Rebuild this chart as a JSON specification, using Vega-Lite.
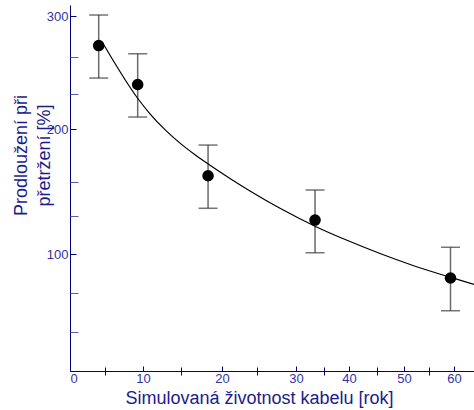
{
  "$schema": "https://vega.github.io/schema/vega-lite/v6.json",
  "autosize": "none",
  "width": 404,
  "height": 366,
  "padding": {"left": 70, "top": 5, "right": 0, "bottom": 39},
  "background": "white",
  "config": {
    "view": {"stroke": null},
    "font": "Liberation Sans",
    "axis": {"grid": false, "labelFont": "Liberation Sans", "titleFont": "Liberation Sans", "titleFontWeight": "normal", "domainColor": "#000080", "tickColor": "#000080", "labelColor": "#33339f", "titleColor": "#1c1c8c", "labelFontSize": 13, "titleFontSize": 18}
  },
  "datasets": {
    "pts": [
      {"t": 4.1, "p": 276.0, "lo": 247.7, "hi": 300.8},
      {"t": 9.3, "p": 241.9, "lo": 211.4, "hi": 269.3},
      {"t": 18.3, "p": 170.6, "lo": 140.9, "hi": 189.9},
      {"t": 33.4, "p": 129.8, "lo": 101.1, "hi": 158.8},
      {"t": 59.3, "p": 79.5, "lo": 51.5, "hi": 105.9}
    ],
    "fit": [
      {"t": 4.86, "p": 276.4},
      {"t": 6.32, "p": 260.8},
      {"t": 8.03, "p": 242.1},
      {"t": 9.34, "p": 228.8},
      {"t": 10.92, "p": 214.5},
      {"t": 12.89, "p": 199.6},
      {"t": 14.87, "p": 191.1},
      {"t": 16.71, "p": 183.8},
      {"t": 18.54, "p": 177.2},
      {"t": 21.14, "p": 168.9},
      {"t": 24.0, "p": 157.9},
      {"t": 27.95, "p": 140.9},
      {"t": 33.39, "p": 124.4},
      {"t": 39.6, "p": 112.0},
      {"t": 45.56, "p": 100.4},
      {"t": 51.8, "p": 90.2},
      {"t": 59.2, "p": 80.2},
      {"t": 64, "p": 74.0}
    ]
  },
  "resolve": {"axis": {"x": "independent", "y": "independent"}},
  "layer": [
    {
      "data": {"name": "pts"},
      "mark": {"type": "rule", "color": "#6a6a6a", "strokeWidth": 1.5},
      "encoding": {
        "x": {"field": "t", "type": "quantitative",
          "scale": {"type": "linear", "domain": [0, 5, 10, 15, 20, 25, 30, 35, 40, 45, 50, 55, 60, 64], "range": [0, 35, 73, 111, 152, 187, 226, 254, 279, 307, 334, 359, 384, 404], "nice": false, "zero": false},
          "axis": {"orient": "bottom", "values": [0, 10, 20, 30, 40, 50, 60], "tickSize": -5, "labelPadding": 16, "labelBaseline": "alphabetic", "labelFontSize": 13, "title": "Simulovaná životnost kabelu [rok]", "titleX": 189, "titleY": 32, "titleAnchor": null, "titleAlign": "center", "titleBaseline": "alphabetic"}},
        "y": {"field": "lo", "type": "quantitative",
          "scale": {"type": "linear", "domain": [0, 33.333, 66.667, 100, 133.333, 166.667, 200, 233.333, 266.667, 300, 309], "range": [366, 327, 288, 249, 211, 177, 124, 89, 52, 11, 0], "nice": false, "zero": false},
          "axis": {"orient": "left", "values": [100, 200, 300], "tickSize": -6, "labelPadding": 8, "labelBaseline": "middle", "labelFontSize": 13, "title": ["Prodloužení při", "přetržení [%]"], "titleAngle": -90, "titleX": -49, "titleY": 150, "titleAlign": "center", "titleBaseline": "middle", "titleLineHeight": 23}},
        "y2": {"field": "hi"}
      }
    },
    {
      "data": {"name": "pts"},
      "transform": [{"fold": ["lo", "hi"], "as": ["k", "v"]}],
      "mark": {"type": "tick", "orient": "horizontal", "size": 19, "thickness": 1.5, "color": "#3a3a3a"},
      "encoding": {
        "x": {"field": "t", "type": "quantitative",
          "scale": {"type": "linear", "domain": [0, 5, 10, 15, 20, 25, 30, 35, 40, 45, 50, 55, 60, 64], "range": [0, 35, 73, 111, 152, 187, 226, 254, 279, 307, 334, 359, 384, 404], "nice": false, "zero": false},
          "axis": {"orient": "bottom", "values": [5, 15, 25, 35, 45, 55], "tickSize": -4, "labels": false, "domain": false, "title": null}},
        "y": {"field": "v", "type": "quantitative",
          "scale": {"type": "linear", "domain": [0, 33.333, 66.667, 100, 133.333, 166.667, 200, 233.333, 266.667, 300, 309], "range": [366, 327, 288, 249, 211, 177, 124, 89, 52, 11, 0], "nice": false, "zero": false},
          "axis": {"orient": "left", "values": [33.333, 66.667, 133.333, 166.667, 233.333, 266.667], "tickSize": -8, "tickColor": "#5c5cb4", "labels": false, "domain": false, "title": null}}
      }
    },
    {
      "data": {"name": "fit"},
      "mark": {"type": "line", "color": "#000000", "strokeWidth": 1.2, "interpolate": "monotone"},
      "encoding": {
        "x": {"field": "t", "type": "quantitative",
          "scale": {"type": "linear", "domain": [0, 5, 10, 15, 20, 25, 30, 35, 40, 45, 50, 55, 60, 64], "range": [0, 35, 73, 111, 152, 187, 226, 254, 279, 307, 334, 359, 384, 404], "nice": false, "zero": false},
          "axis": {"orient": "bottom", "values": [5, 15, 25, 35, 45, 55], "tickSize": 4, "labels": false, "domain": false, "title": null}},
        "y": {"field": "p", "type": "quantitative",
          "scale": {"type": "linear", "domain": [0, 33.333, 66.667, 100, 133.333, 166.667, 200, 233.333, 266.667, 300, 309], "range": [366, 327, 288, 249, 211, 177, 124, 89, 52, 11, 0], "nice": false, "zero": false},
          "axis": null}
      }
    },
    {
      "data": {"name": "pts"},
      "mark": {"type": "circle", "color": "#000000", "opacity": 1, "size": 135},
      "encoding": {
        "x": {"field": "t", "type": "quantitative",
          "scale": {"type": "linear", "domain": [0, 5, 10, 15, 20, 25, 30, 35, 40, 45, 50, 55, 60, 64], "range": [0, 35, 73, 111, 152, 187, 226, 254, 279, 307, 334, 359, 384, 404], "nice": false, "zero": false},
          "axis": null},
        "y": {"field": "p", "type": "quantitative",
          "scale": {"type": "linear", "domain": [0, 33.333, 66.667, 100, 133.333, 166.667, 200, 233.333, 266.667, 300, 309], "range": [366, 327, 288, 249, 211, 177, 124, 89, 52, 11, 0], "nice": false, "zero": false},
          "axis": null}
      }
    }
  ]
}
